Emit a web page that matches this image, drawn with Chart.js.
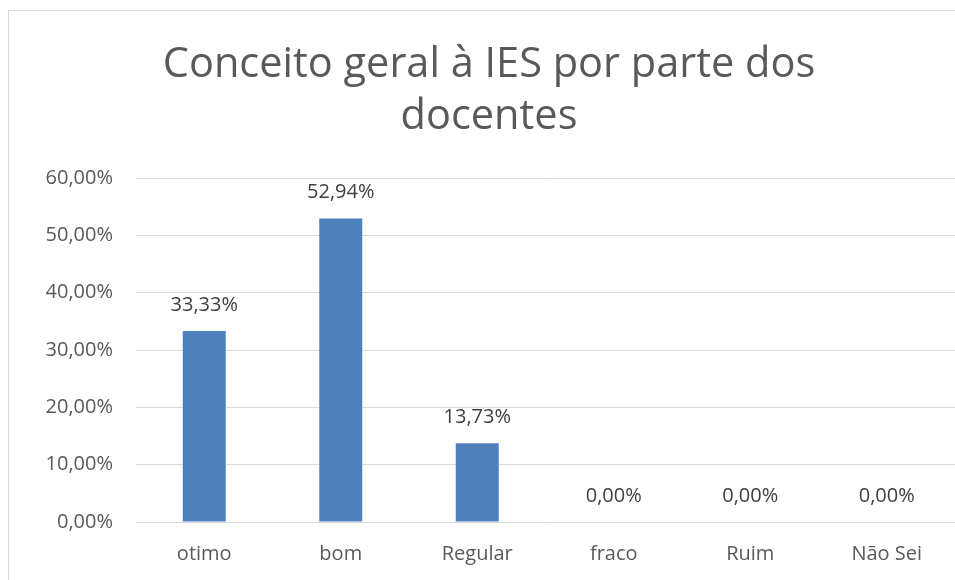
<!DOCTYPE html>
<html>
<head>
<meta charset="utf-8">
<script src="https://cdn.jsdelivr.net/npm/chart.js@4"></script>
<style>
  html, body { margin: 0; padding: 0; background: #fff; }
  #frame {
    position: absolute; left: 8px; top: 10px;
    width: 946px; height: 569px; overflow: hidden;
    border-left: 1px solid #d9d9d9; border-top: 1px solid #d9d9d9;
  }
  #wrap { width: 960px; height: 569px; }
</style>
</head>
<body>
<div id="frame"><div id="wrap"><canvas id="chart"></canvas></div></div>
<script>
const titleLines = ['Conceito geral à IES por parte dos', 'docentes'];
const categories = ['otimo', 'bom', 'Regular', 'fraco', 'Ruim', 'Não Sei'];
const values = [33.33, 52.94, 13.73, 0, 0, 0];
const yTicks = [0, 10, 20, 30, 40, 50, 60];

const fmt = v => v.toFixed(2).replace('.', ',') + '%';
const FONT = '"Open Sans", "Liberation Sans", sans-serif';

// title centred on the whole (uncropped) chart, not on the plot area
const chartTitle = {
    id: 'chartTitle',
    afterDraw(chart) {
        const ctx = chart.ctx;
        ctx.save();
        ctx.font = '41.5px ' + FONT;
        ctx.fillStyle = '#595959';
        ctx.textAlign = 'center';
        ctx.textBaseline = 'alphabetic';
        titleLines.forEach((line, i) => {
            ctx.fillText(line, chart.width / 2, 66 + i * 52);
        });
        ctx.restore();
    }
};

// value labels above each bar
const barLabels = {
    id: 'barLabels',
    afterDatasetsDraw(chart) {
        const ctx = chart.ctx;
        const meta = chart.getDatasetMeta(0);
        ctx.save();
        ctx.font = '20px ' + FONT;
        ctx.fillStyle = '#404040';
        ctx.textAlign = 'center';
        ctx.textBaseline = 'middle';
        meta.data.forEach((bar, i) => {
            ctx.fillText(fmt(values[i]), bar.x, bar.y - 26);
        });
        ctx.restore();
    }
};

new Chart(document.getElementById('chart'), {
    type: 'bar',
    data: {
        labels: categories,
        datasets: [{
            data: values,
            backgroundColor: '#4f81bd',
            borderWidth: 0,
            barPercentage: 0.315,
            categoryPercentage: 1
        }]
    },
    options: {
        responsive: true,
        maintainAspectRatio: false,
        animation: false,
        layout: { padding: { left: 0, right: 14, top: 167, bottom: 0 } },
        plugins: {
            legend: { display: false },
            tooltip: { enabled: false },
            title: { display: false }
        },
        scales: {
            x: {
                grid: { display: false, drawTicks: false },
                border: { display: false },
                ticks: { color: '#595959', font: { family: FONT, size: 20 }, padding: 20 },
                afterFit: s => { s.height = 58; }
            },
            y: {
                min: 0,
                max: 60,
                afterBuildTicks: s => { s.ticks = yTicks.map(v => ({ value: v })); },
                grid: { color: '#d9d9d9', lineWidth: 1, drawTicks: false },
                border: { display: false },
                ticks: {
                    color: '#595959',
                    font: { family: FONT, size: 20 },
                    padding: 23,
                    callback: v => fmt(v)
                },
                afterFit: s => { s.width = 127; }
            }
        }
    },
    plugins: [barLabels, chartTitle]
});
</script>
</body>
</html>
